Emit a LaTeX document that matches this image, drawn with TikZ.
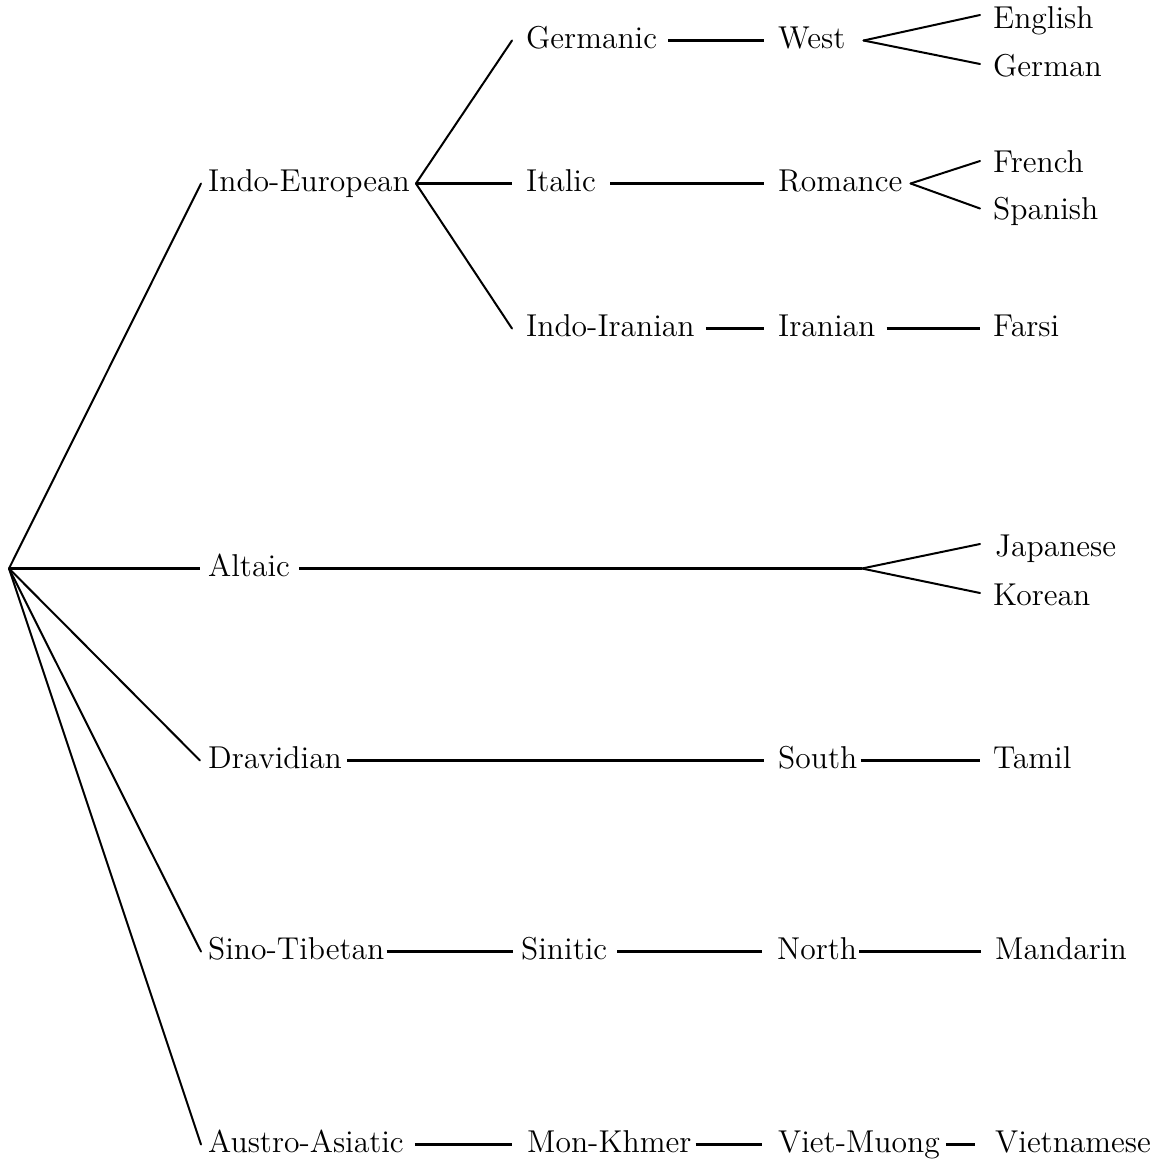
\documentclass[tikz,border=0pt]{standalone}
\usepackage{fontspec}
\setmainfont{lmroman12-regular}[Extension=.otf]
\begin{document}
\begin{tikzpicture}[x=1pt,y=-1pt,
  lbl/.style={anchor=west,inner sep=0pt,text height=16pt,text depth=0pt,font=\fontsize{31.6}{38}\selectfont},
  hline/.style={line width=3pt},
  dline/.style={line width=2pt,line cap=round}]
\useasboundingbox (0,0) rectangle (1158,1162);
\coordinate (root) at (9,568.5);
% level 1
\node[lbl] (ie)   at (208,183.5) {Indo-European};
\node[lbl] (alt)  at (208,568.5) {Altaic};
\node[lbl] (dra)  at (208,760.5) {Dravidian};
\node[lbl] (sino) at (208,951.5) {Sino-Tibetan};
\node[lbl] (aus)  at (208,1144.5) {Austro-Asiatic};
% level 2
\node[lbl] (germ) at (526,40.5)  {Germanic};
\node[lbl] (ita)  at (526,183.5) {Italic};
\node[lbl] (iir)  at (526,328.5) {Indo-Iranian};
\node[lbl] (sint) at (521,951.5) {Sinitic};
\node[lbl] (mon)  at (527,1144.5) {Mon-Khmer};
% level 3
\node[lbl] (west)  at (778,40.5)  {West};
\node[lbl] (rom)   at (778,183.5) {Romance};
\node[lbl] (iran)  at (778,328.5) {Iranian};
\coordinate (fork) at (862,568.5);
\node[lbl] (south) at (778,760.5) {South};
\node[lbl] (north) at (777,951.5) {North};
\node[lbl] (viet)  at (778,1144.5) {Viet-Muong};
% level 4
\node[lbl] (eng) at (993,20)    {English};
\node[lbl] (ger) at (993,68)    {German};
\node[lbl] (fre) at (993,164)   {French};
\node[lbl] (spa) at (993,211.5) {Spanish};
\node[lbl] (far) at (993,328.5) {Farsi};
\node[lbl] (jap) at (995,548)   {Japanese};
\node[lbl] (kor) at (993,597)   {Korean};
\node[lbl] (tam) at (993,760.5) {Tamil};
\node[lbl] (man) at (995,951.5) {Mandarin};
\node[lbl] (vie) at (995,1144.5) {Vietnamese};
% root branches
\draw[dline] (root) -- ([xshift=-7pt]ie.west);
\draw[hline] (root) -- ([xshift=-8pt]alt.west);
\draw[dline] (root) -- ([xshift=-8pt]dra.west);
\draw[dline] (root) -- ([xshift=-7pt]sino.west);
\draw[dline] (root) -- ([xshift=-7pt]aus.west);
% Indo-European
\draw[dline] ([xshift=6pt]ie.east) -- ([xshift=-14pt]germ.west);
\draw[hline] ([xshift=6pt]ie.east) -- ([xshift=-14pt]ita.west);
\draw[dline] ([xshift=6pt]ie.east) -- ([xshift=-14pt]iir.west);
\draw[hline] ([xshift=11pt]germ.east) -- ([xshift=-14pt]west.west);
\draw[hline] ([xshift=14pt]ita.east) -- ([xshift=-14pt]rom.west);
\draw[hline] ([xshift=11pt]iir.east) -- ([xshift=-14pt]iran.west);
\draw[dline] ([xshift=18pt]west.east) -- ([xshift=-13pt,yshift=5pt]eng.west);
\draw[dline] ([xshift=18pt]west.east) -- ([xshift=-13pt,yshift=4pt]ger.west);
\draw[dline] ([xshift=8pt]rom.east) -- ([xshift=-13pt,yshift=3pt]fre.west);
\draw[dline] ([xshift=8pt]rom.east) -- ([xshift=-13pt,yshift=3pt]spa.west);
\draw[hline] ([xshift=11pt]iran.east) -- ([xshift=-13pt]far.west);
% Altaic
\draw[hline] ([xshift=9pt]alt.east) -- (fork);
\draw[dline] (fork) -- ([xshift=-15pt,yshift=4pt]jap.west);
\draw[dline] (fork) -- ([xshift=-13pt,yshift=4pt]kor.west);
% Dravidian
\draw[hline] ([xshift=5pt]dra.east) -- ([xshift=-14pt]south.west);
\draw[hline] ([xshift=3pt]south.east) -- ([xshift=-13pt]tam.west);
% Sino-Tibetan
\draw[hline] ([xshift=2pt]sino.east) -- ([xshift=-8pt]sint.west);
\draw[hline] ([xshift=10pt]sint.east) -- ([xshift=-15pt]north.west);
\draw[hline] ([xshift=2pt]north.east) -- ([xshift=-14pt]man.west);
% Austro-Asiatic
\draw[hline] ([xshift=11pt]aus.east) -- ([xshift=-15pt]mon.west);
\draw[hline] ([xshift=4pt]mon.east) -- ([xshift=-16pt]viet.west);
\draw[hline] ([xshift=6pt]viet.east) -- ([xshift=-20pt]vie.west);
\end{tikzpicture}
\end{document}
